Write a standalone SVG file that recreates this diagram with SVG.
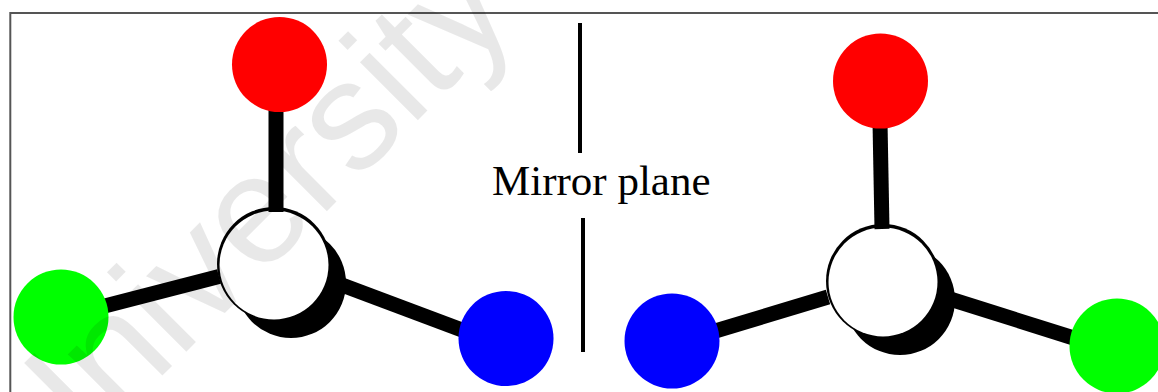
<svg xmlns="http://www.w3.org/2000/svg" width="1158" height="392" viewBox="0 0 1158 392">
<style>
.bond{stroke:#000;stroke-width:15;fill:none}
.mirror{stroke:#000;stroke-width:4;fill:none}
.ink{fill:#000}
.core{fill:#fff}
.a{stroke:none}
.label{font-family:"Liberation Serif",serif;font-size:43px;fill:#000}
.mark{font-family:"Liberation Sans",Arial,sans-serif;font-size:155px;fill:#000;fill-opacity:.09}
</style>
<rect width="1158" height="392" fill="#fff"/>
<path d="M10.300 392V13H1158" fill="none" stroke="#555" stroke-width="2"/>
<g id="left-centre"><circle class="ink" cx="291" cy="283" r="55"/><circle class="ink" cx="274" cy="264" r="57"/><circle class="core" cx="274" cy="265" r="54.5"/></g>
<g id="right-centre"><circle class="ink" cx="900" cy="300" r="55"/><circle class="ink" cx="883" cy="281" r="57"/><circle class="core" cx="883" cy="282" r="54.5"/></g>
<g id="connectors">
<line class="bond" x1="276" y1="105" x2="276" y2="212"/>
<line class="bond" x1="95" y1="308.500" x2="219" y2="276.500"/>
<line class="bond" x1="342" y1="285" x2="470" y2="333"/>
<line class="bond" x1="880" y1="122" x2="882" y2="229"/>
<line class="bond" x1="712" y1="332" x2="828" y2="297"/>
<line class="bond" x1="950" y1="299" x2="1080" y2="340"/>
<line class="mirror" x1="580" y1="23" x2="580" y2="153"/>
<line class="mirror" x1="583" y1="218" x2="583" y2="352"/>
</g>
<g id="left-red"><circle class="a" cx="279.5" cy="64.500" r="47.5" fill="#f00"/></g>
<g id="left-green"><circle class="a" cx="61" cy="317" r="47.5" fill="#0f0"/></g>
<g id="left-blue"><circle class="a" cx="506" cy="338.500" r="47.5" fill="#00f"/></g>
<g id="right-red"><circle class="a" cx="880.5" cy="81" r="47.5" fill="#f00"/></g>
<g id="right-blue"><circle class="a" cx="672" cy="341" r="47.5" fill="#00f"/></g>
<g id="right-green"><circle class="a" cx="1117" cy="346" r="47.5" fill="#0f0"/></g>
<g id="mirror-label"><text class="label" x="492" y="195">Mirror plane</text></g>
<text class="mark" transform="translate(39 499) rotate(-45)">University</text>
</svg>
